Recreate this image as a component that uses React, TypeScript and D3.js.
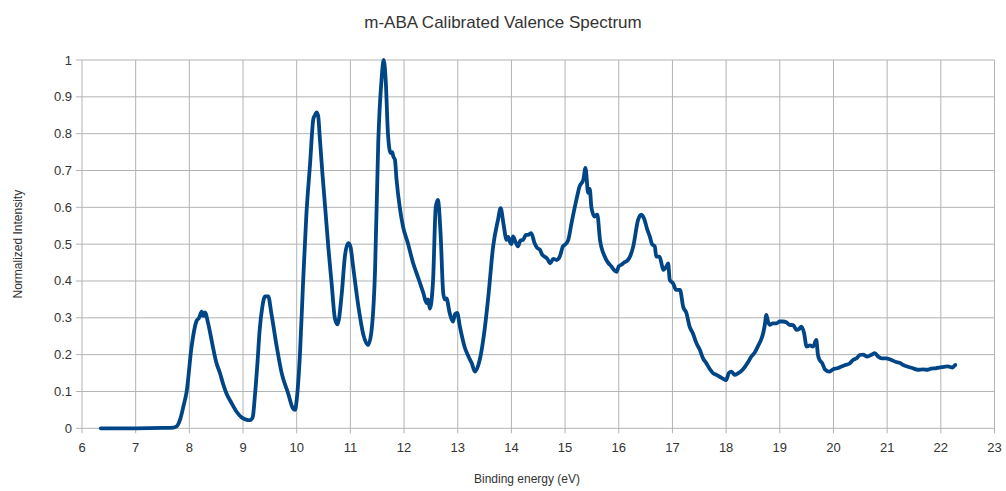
import React from "react";
import * as d3 from "d3";

const energy = [
  6.35, 7.0, 7.5, 7.7, 7.76, 7.83, 7.89, 7.95, 8.04, 8.13, 8.18, 8.23, 8.26, 8.29, 8.35, 8.44, 8.5, 8.57, 8.63, 8.69, 8.78, 8.88, 8.97, 9.07, 9.13, 9.18, 9.22, 9.27, 9.31, 9.36, 9.41, 9.47, 9.53, 9.63, 9.72, 9.84, 9.93, 9.97, 10.0, 10.06, 10.12, 10.18, 10.25, 10.31, 10.34, 10.37, 10.40, 10.43, 10.48, 10.53, 10.59, 10.65, 10.71, 10.76, 10.84, 10.90, 10.96, 11.0, 11.05, 11.15, 11.24, 11.33, 11.39, 11.46, 11.52, 11.58, 11.62, 11.66, 11.70, 11.75, 11.78, 11.80, 11.83, 11.86, 11.92, 11.98, 12.07, 12.17, 12.26, 12.36, 12.42, 12.45, 12.48, 12.54, 12.59, 12.63, 12.68, 12.73, 12.76, 12.79, 12.85, 12.91, 12.95, 12.99, 13.04, 13.13, 13.2, 13.26, 13.32, 13.41, 13.50, 13.57, 13.66, 13.75, 13.80, 13.85, 13.91, 13.94, 13.97, 14.0, 14.03, 14.08, 14.12, 14.17, 14.22, 14.27, 14.31, 14.37, 14.43, 14.48, 14.53, 14.58, 14.62, 14.67, 14.72, 14.78, 14.84, 14.90, 14.96, 15.01, 15.06, 15.12, 15.21, 15.27, 15.34, 15.38, 15.43, 15.46, 15.49, 15.55, 15.6, 15.65, 15.74, 15.8, 15.86, 15.91, 15.96, 16.0, 16.05, 16.1, 16.17, 16.22, 16.27, 16.36, 16.42, 16.48, 16.53, 16.58, 16.62, 16.67, 16.70, 16.76, 16.80, 16.83, 16.89, 16.92, 16.95, 17.01, 17.07, 17.14, 17.20, 17.26, 17.32, 17.38, 17.45, 17.51, 17.57, 17.63, 17.7, 17.76, 17.82, 17.88, 17.94, 18.0, 18.05, 18.10, 18.16, 18.22, 18.28, 18.35, 18.41, 18.47, 18.53, 18.59, 18.65, 18.69, 18.72, 18.75, 18.78, 18.81, 18.87, 18.94, 19.0, 19.06, 19.12, 19.18, 19.25, 19.31, 19.36, 19.40, 19.45, 19.50, 19.56, 19.62, 19.68, 19.71, 19.74, 19.79, 19.84, 19.92, 19.99, 20.07, 20.15, 20.22, 20.30, 20.37, 20.43, 20.49, 20.55, 20.63, 20.71, 20.77, 20.83, 20.9, 20.98, 21.07, 21.17, 21.24, 21.30, 21.39, 21.48, 21.57, 21.67, 21.75, 21.82, 21.9, 21.98, 22.05, 22.13, 22.22, 22.27, 22.32,
];

const intensity = [
  0.0, 0.0, 0.001, 0.002, 0.005, 0.025, 0.06, 0.1, 0.22, 0.29, 0.3, 0.317, 0.305, 0.315, 0.285, 0.22, 0.18, 0.15, 0.12, 0.095, 0.07, 0.045, 0.03, 0.023, 0.022, 0.03, 0.086, 0.18, 0.267, 0.33, 0.358, 0.358, 0.31, 0.22, 0.15, 0.095, 0.054, 0.05, 0.077, 0.2, 0.4, 0.58, 0.72, 0.84, 0.85, 0.858, 0.848, 0.79, 0.69, 0.6, 0.49, 0.394, 0.3, 0.282, 0.367, 0.47, 0.503, 0.494, 0.44, 0.33, 0.255, 0.226, 0.26, 0.43, 0.78, 0.946, 1.0, 0.94, 0.8, 0.747, 0.75, 0.738, 0.729, 0.675, 0.6, 0.548, 0.503, 0.448, 0.41, 0.367, 0.34, 0.35, 0.325, 0.4, 0.6, 0.62, 0.53, 0.367, 0.35, 0.353, 0.313, 0.29, 0.31, 0.313, 0.276, 0.22, 0.195, 0.177, 0.154, 0.186, 0.267, 0.358, 0.494, 0.566, 0.598, 0.557, 0.512, 0.52, 0.507, 0.5, 0.521, 0.505, 0.494, 0.51, 0.512, 0.525, 0.525, 0.53, 0.503, 0.49, 0.485, 0.47, 0.466, 0.46, 0.448, 0.46, 0.457, 0.466, 0.494, 0.5, 0.512, 0.557, 0.62, 0.657, 0.675, 0.707, 0.639, 0.65, 0.6, 0.575, 0.58, 0.512, 0.466, 0.45, 0.44, 0.43, 0.425, 0.44, 0.444, 0.45, 0.457, 0.47, 0.494, 0.566, 0.58, 0.566, 0.54, 0.52, 0.5, 0.494, 0.466, 0.466, 0.445, 0.43, 0.44, 0.448, 0.403, 0.394, 0.376, 0.376, 0.33, 0.313, 0.276, 0.258, 0.23, 0.213, 0.19, 0.177, 0.16, 0.149, 0.145, 0.14, 0.135, 0.131, 0.15, 0.154, 0.145, 0.149, 0.155, 0.167, 0.18, 0.195, 0.205, 0.222, 0.24, 0.258, 0.28, 0.308, 0.29, 0.281, 0.285, 0.285, 0.29, 0.29, 0.288, 0.281, 0.28, 0.267, 0.27, 0.276, 0.26, 0.222, 0.225, 0.222, 0.24, 0.2, 0.186, 0.177, 0.16, 0.154, 0.16, 0.163, 0.168, 0.172, 0.176, 0.186, 0.19, 0.199, 0.2, 0.195, 0.2, 0.204, 0.195, 0.19, 0.19, 0.186, 0.18, 0.177, 0.172, 0.167, 0.163, 0.159, 0.16, 0.159, 0.162, 0.163, 0.165, 0.167, 0.168, 0.165, 0.172,
];

const xTicks = [6, 7, 8, 9, 10, 11, 12, 13, 14, 15, 16, 17, 18, 19, 20, 21, 22, 23];
const yTicks = [0, 0.1, 0.2, 0.3, 0.4, 0.5, 0.6, 0.7, 0.8, 0.9, 1];

const title = "m-ABA Calibrated Valence Spectrum";
const xTitle = "Binding energy (eV)";
const yTitle = "Normalized Intensity";

export default function App() {
  const W = 1006;
  const H = 491;
  const left = 82;
  const right = 994.5;
  const top = 60;
  const bottom = 428.3;
  const x = d3.scaleLinear().domain([6, 23]).range([left, right]);
  const y = d3.scaleLinear().domain([0, 1]).range([bottom, top]);
  const pts: [number, number][] = energy.map((e, i) => [e, intensity[i]]);
  const line = d3
    .line<[number, number]>()
    .x((d) => x(d[0]))
    .y((d) => y(d[1]))
    .curve(d3.curveMonotoneX);
  const font = "'Liberation Sans', Arial, sans-serif";
  const grid = "#b3b3b3";
  const fmt = (v: number) => (Math.round(v * 10) / 10).toString();
  return (
    <svg
      width={W}
      height={H}
      style={{ position: "absolute", left: 0, top: 0, background: "#fff" }}
      fontFamily={font}
    >
      <rect x={0} y={0} width={W} height={H} fill="#fff" />
      {xTicks.map((t) => (
        <line key={"gx" + t} x1={x(t)} x2={x(t)} y1={top} y2={bottom + 5} stroke={grid} strokeWidth={1} />
      ))}
      {yTicks.map((t) => (
        <line key={"gy" + t} x1={left - 6} x2={right} y1={y(t)} y2={y(t)} stroke={grid} strokeWidth={1} />
      ))}
      {xTicks.map((t) => (
        <text key={"tx" + t} x={x(t)} y={452} fontSize={13} textAnchor="middle" fill="#333">
          {t}
        </text>
      ))}
      {yTicks.map((t) => (
        <text key={"ty" + t} x={72} y={y(t) + 4.5} fontSize={13} textAnchor="end" fill="#333">
          {fmt(t)}
        </text>
      ))}
      <path
        d={line(pts) || ""}
        fill="none"
        stroke="#004586"
        strokeWidth={3.8}
        strokeLinejoin="round"
        strokeLinecap="round"
      />
      <text x={503} y={28} fontSize={17} textAnchor="middle" fill="#333">
        {title}
      </text>
      <text x={527} y={483} fontSize={12} textAnchor="middle" fill="#333">
        {xTitle}
      </text>
      <text
        transform={`translate(22,${(top + bottom) / 2}) rotate(-90)`}
        fontSize={12}
        textAnchor="middle"
        fill="#333"
      >
        {yTitle}
      </text>
    </svg>
  );
}
